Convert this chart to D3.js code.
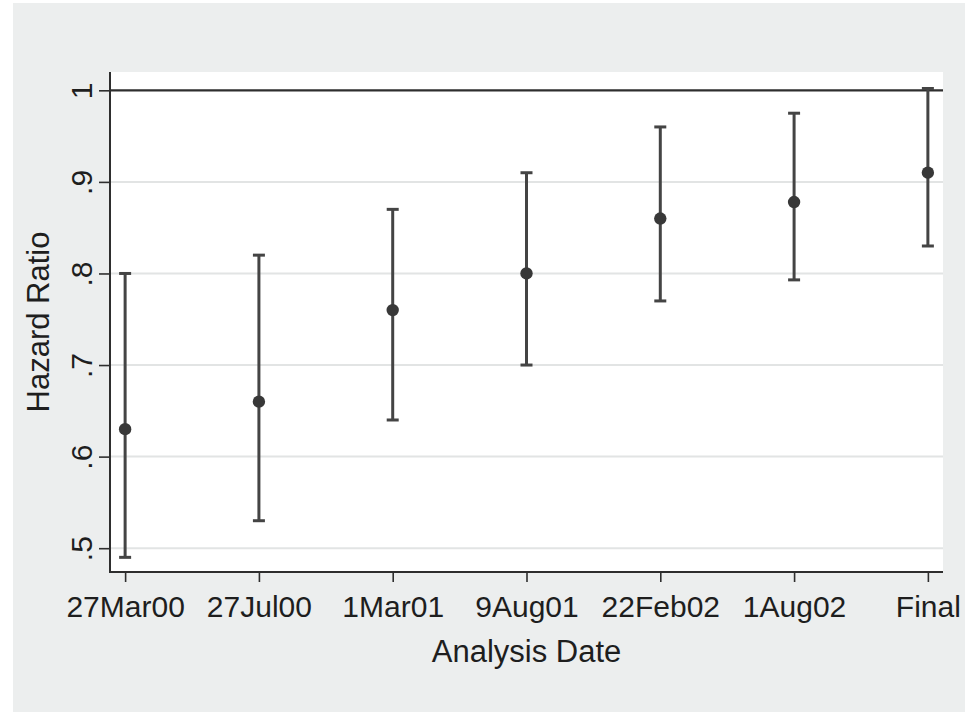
<!DOCTYPE html>
<html>
<head>
<meta charset="utf-8">
<script src="https://cdn.jsdelivr.net/npm/d3@7"></script>
<style>
  html, body { margin: 0; padding: 0; background: #ffffff; }
  svg { display: block; }
  text { font-family: "Liberation Sans", Arial, sans-serif; fill: #1e1e1e; }
</style>
</head>
<body>
<svg id="chart" width="965" height="712"></svg>
<script>
// Interim analysis dates and estimated hazard ratios with 95% CIs
const dates = ["27Mar00", "27Jul00", "1Mar01", "9Aug01", "22Feb02", "1Aug02", "Final"];
const hazardRatio = [0.63, 0.66, 0.76, 0.80, 0.86, 0.878, 0.91];
const ciLower = [0.49, 0.53, 0.64, 0.70, 0.77, 0.793, 0.83];
const ciUpper = [0.80, 0.82, 0.87, 0.91, 0.96, 0.975, 1.002];
const yTicks = [0.5, 0.6, 0.7, 0.8, 0.9, 1];
const yTickLabels = [".5", ".6", ".7", ".8", ".9", "1"];
const referenceValue = 1;

const svg = d3.select("#chart");
const W = 965, H = 712;
const plot = { left: 110, right: 943, top: 72, bottom: 572 };

// outer graph region
svg.append("rect").attr("x", 13).attr("y", 3).attr("width", W - 13).attr("height", H - 3)
  .attr("fill", "#eceeee");
// plot region
svg.append("rect").attr("x", plot.left).attr("y", plot.top)
  .attr("width", plot.right - plot.left).attr("height", plot.bottom - plot.top)
  .attr("fill", "#ffffff");

const x = d3.scalePoint().domain(dates).range([plot.left, plot.right]).padding(0.113);
const y = d3.scaleLinear().domain([0.474, 1.02]).range([plot.bottom, plot.top]);

// horizontal gridlines
svg.append("g").selectAll("line").data(yTicks.filter(v => v !== referenceValue)).join("line")
  .attr("x1", plot.left).attr("x2", plot.right)
  .attr("y1", d => y(d)).attr("y2", d => y(d))
  .attr("stroke", "#e2e4e4").attr("stroke-width", 2);

// reference line at HR = 1
svg.append("line")
  .attr("x1", plot.left).attr("x2", plot.right)
  .attr("y1", y(referenceValue)).attr("y2", y(referenceValue))
  .attr("stroke", "#2e2e2e").attr("stroke-width", 2.2);

// y axis
const yAxis = d3.axisLeft(y).tickValues(yTicks)
  .tickFormat((d, i) => yTickLabels[i]).tickSize(11).tickPadding(7);
const gy = svg.append("g").attr("transform", `translate(${plot.left},0)`).call(yAxis);
gy.select(".domain").attr("stroke", "#2e2e2e").attr("stroke-width", 2)
  .attr("d", `M0,${plot.top}V${plot.bottom}`);
gy.selectAll(".tick line").attr("stroke", "#2e2e2e").attr("stroke-width", 1.6);
gy.selectAll(".tick text")
  .attr("font-size", 30).attr("fill", "#1e1e1e")
  .attr("text-anchor", "middle").attr("dy", 0)
  .attr("transform", "translate(-18,0) rotate(-90)")
  .attr("x", 0).attr("y", 0);

// x axis
const xAxis = d3.axisBottom(x).tickSize(10).tickPadding(12);
const gx = svg.append("g").attr("transform", `translate(0,${plot.bottom})`).call(xAxis);
gx.select(".domain").attr("stroke", "#2e2e2e").attr("stroke-width", 2)
  .attr("d", `M${plot.left - 1},0H${plot.right}`);
gx.selectAll(".tick line").attr("stroke", "#2e2e2e").attr("stroke-width", 1.6);
gx.selectAll(".tick text").attr("font-size", 30).attr("fill", "#1e1e1e")
  .attr("dy", 0).attr("y", 45);

// confidence-interval bars
const bars = svg.append("g").selectAll("g").data(dates).join("g");
bars.append("line")
  .attr("x1", d => x(d)).attr("x2", d => x(d))
  .attr("y1", (d, i) => y(ciLower[i])).attr("y2", (d, i) => y(ciUpper[i]))
  .attr("stroke", "#444444").attr("stroke-width", 3);
[ciLower, ciUpper].forEach(arr => {
  bars.append("line")
    .attr("x1", d => x(d) - 6).attr("x2", d => x(d) + 6)
    .attr("y1", (d, i) => y(arr[i])).attr("y2", (d, i) => y(arr[i]))
    .attr("stroke", "#444444").attr("stroke-width", 3);
});

// point estimates
svg.append("g").selectAll("circle").data(dates).join("circle")
  .attr("cx", d => x(d)).attr("cy", (d, i) => y(hazardRatio[i]))
  .attr("r", 6.2).attr("fill", "#383838");

// axis titles
svg.append("text").attr("x", (plot.left + plot.right) / 2).attr("y", 662)
  .attr("text-anchor", "middle").attr("font-size", 31).text("Analysis Date");
svg.append("text").attr("transform", `translate(49,${(plot.top + plot.bottom) / 2}) rotate(-90)`)
  .attr("text-anchor", "middle").attr("font-size", 31).text("Hazard Ratio");
</script>
</body>
</html>
